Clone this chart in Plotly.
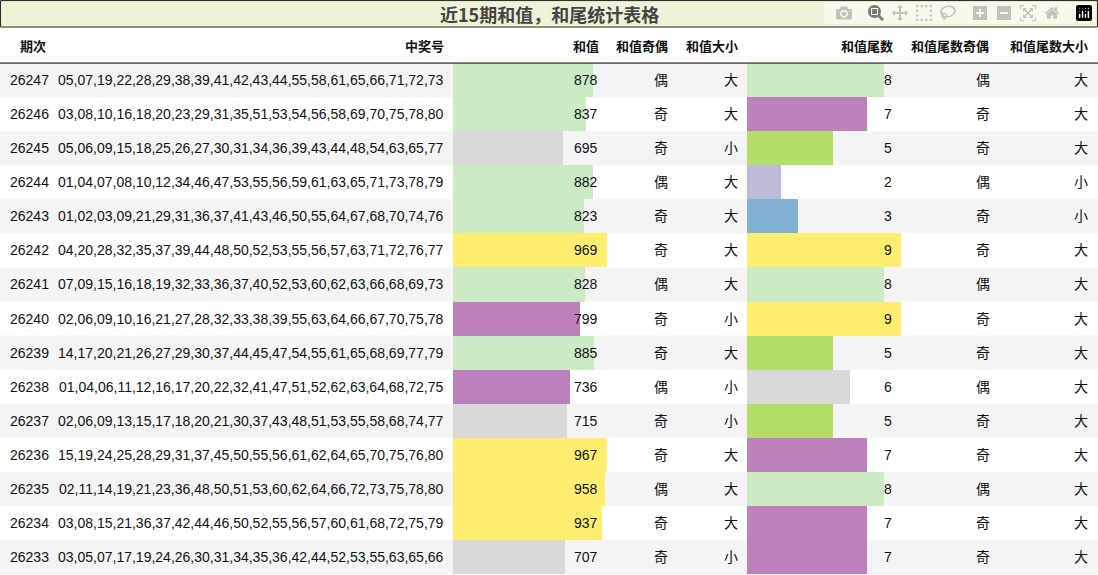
import plotly.graph_objects as go

periods = ["26247","26246","26245","26244","26243","26242","26241","26240","26239","26238","26237","26236","26235","26234","26233"]
numbers = [
"05,07,19,22,28,29,38,39,41,42,43,44,55,58,61,65,66,71,72,73",
"03,08,10,16,18,20,23,29,31,35,51,53,54,56,58,69,70,75,78,80",
"05,06,09,15,18,25,26,27,30,31,34,36,39,43,44,48,54,63,65,77",
"01,04,07,08,10,12,34,46,47,53,55,56,59,61,63,65,71,73,78,79",
"01,02,03,09,21,29,31,36,37,41,43,46,50,55,64,67,68,70,74,76",
"04,20,28,32,35,37,39,44,48,50,52,53,55,56,57,63,71,72,76,77",
"07,09,15,16,18,19,32,33,36,37,40,52,53,60,62,63,66,68,69,73",
"02,06,09,10,16,21,27,28,32,33,38,39,55,63,64,66,67,70,75,78",
"14,17,20,21,26,27,29,30,37,44,45,47,54,55,61,65,68,69,77,79",
"01,04,06,11,12,16,17,20,22,32,41,47,51,52,62,63,64,68,72,75",
"02,06,09,13,15,17,18,20,21,30,37,43,48,51,53,55,58,68,74,77",
"15,19,24,25,28,29,31,37,45,50,55,56,61,62,64,65,70,75,76,80",
"02,11,14,19,21,23,36,48,50,51,53,60,62,64,66,72,73,75,78,80",
"03,08,15,21,36,37,42,44,46,50,52,55,56,57,60,61,68,72,75,79",
"03,05,07,17,19,24,26,30,31,34,35,36,42,44,52,53,55,63,65,66"]
sums = [878,837,695,882,823,969,828,799,885,736,715,967,958,937,707]
sum_oe = ["偶","奇","奇","偶","奇","奇","偶","奇","奇","偶","奇","奇","偶","奇","奇"]
sum_bs = ["大","大","小","大","大","大","大","小","大","小","小","大","大","大","小"]
tails = [8,7,5,2,3,9,8,9,5,6,5,7,8,7,7]
tail_oe = ["偶","奇","奇","偶","奇","奇","偶","奇","奇","偶","奇","奇","偶","奇","奇"]
tail_bs = ["大","大","大","小","小","大","大","大","大","大","大","大","大","大","大"]
headers = ["期次","中奖号","和值","和值奇偶","和值大小","和值尾数","和值尾数奇偶","和值尾数大小"]
title = "近15期和值，和尾统计表格"

G, P, Y, GR = "#ccebc5", "#bc80bd", "#ffed6f", "#d9d9d9"
sum_colors = [G,G,GR,G,G,Y,G,P,G,P,GR,Y,Y,Y,GR]
tail_colors = [G,P,"#b3de69","#bebada","#80b1d3",Y,G,Y,"#b3de69",GR,"#b3de69",P,G,P,P]

W, H = 1098, 575
px = lambda p: p / W
rows = list(range(len(periods)))
fig = go.Figure()
fig.add_trace(go.Bar(x=sums, y=rows, orientation="h", width=1, marker=dict(color=sum_colors, line_width=0),
                     xaxis="x", yaxis="y", hoverinfo="skip"))
fig.add_trace(go.Bar(x=tails, y=rows, orientation="h", width=1, marker=dict(color=tail_colors, line_width=0),
                     xaxis="x2", yaxis="y", hoverinfo="skip"))

shapes = []
for i in rows:
    if i % 2 == 0:
        shapes.append(dict(type="rect", xref="paper", yref="y", x0=0, x1=1, y0=i-0.5, y1=i+0.5,
                           fillcolor="#f4f4f4", line_width=0, layer="below"))
shapes.append(dict(type="line", xref="paper", yref="y", x0=0, x1=1, y0=-0.5, y1=-0.5, line=dict(color="black", width=1)))
shapes.append(dict(type="rect", xref="paper", yref="paper", x0=0.0005, x1=0.9995, y0=1-27/H, y1=0.999,
                   fillcolor="#eef3d8", line=dict(color="#222", width=1)))

ann = []
F = "Liberation Sans, Noto Sans CJK SC"
def t(x, y, s, anchor, bold=False, size=14):
    ann.append(dict(x=px(x), y=y, xref="paper", yref="y", text=f"<b>{s}</b>" if bold else str(s),
                    xanchor=anchor, yanchor="middle", showarrow=False, font=dict(size=size, color="#111", family=F)))
hx = [(33,"center"),(446,"right"),(601,"right"),(642,"center"),(712,"center"),(895,"right"),(950,"center"),(1090,"right")]
for (x, a), h in zip(hx, headers):
    t(x, -1, h, a, bold=True, size=13)
for i in rows:
    t(8, i, periods[i], "left")
    t(446, i, numbers[i], "right")
    t(600, i, sums[i], "right")
    t(670, i, sum_oe[i], "right")
    t(740, i, sum_bs[i], "right")
    t(894, i, tails[i], "right")
    t(992, i, tail_oe[i], "right")
    t(1090, i, tail_bs[i], "right")
ann.append(dict(x=0.5, y=1-14/H, xref="paper", yref="paper", text=f"<b>{title}</b>", showarrow=False,
                xanchor="center", yanchor="middle",
                font=dict(size=18, color="#444", family="Noto Sans CJK SC")))

fig.update_layout(
    width=W, height=H, margin=dict(l=0, r=0, t=0, b=0), showlegend=False, bargap=0,
    plot_bgcolor="white", paper_bgcolor="white", shapes=shapes, annotations=ann,
    xaxis=dict(domain=[px(453), px(607)], range=[0, 969], visible=False),
    xaxis2=dict(domain=[px(747), px(901)], range=[0, 9], visible=False, anchor="y"),
    yaxis=dict(domain=[1-574/H, 1-29/H], range=[14.5, -1.5], visible=False),
)
fig.write_html("out.html", post_script="document.body.style.margin='0';document.body.style.overflow='hidden';")
